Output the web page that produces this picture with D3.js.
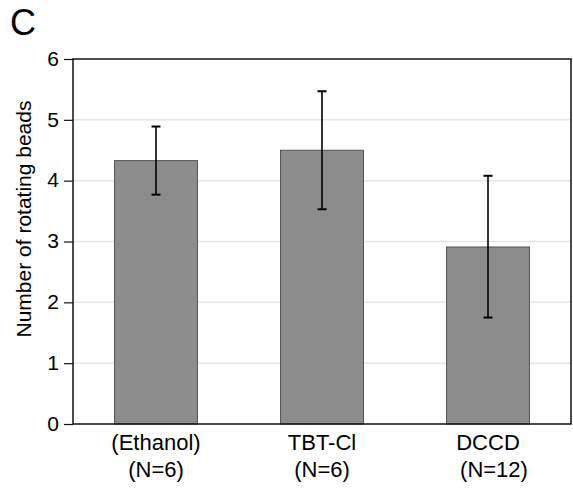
<!DOCTYPE html>
<html>
<head>
<meta charset="utf-8">
<script src="https://cdn.jsdelivr.net/npm/d3@7"></script>
<style>
  body { margin: 0; background: #fff; }
  text { font-family: "Liberation Sans", Arial, sans-serif; fill: #000; }
</style>
</head>
<body>
<div id="chart"></div>
<script>
// treatment groups and their bead counts (mean, error bar low/high)
var categories = ["(Ethanol)", "TBT-Cl", "DCCD"];
var groupSizes = ["(N=6)", "(N=6)", "(N=12)"];
var means = [4.33, 4.50, 2.91];
var errLow = [3.77, 3.53, 1.75];
var errHigh = [4.89, 5.47, 4.08];
var yTicks = [0, 1, 2, 3, 4, 5, 6];

var w = 573, h = 496;
var margin = {top: 59, right: 2, bottom: 72, left: 73};

var svg = d3.select("#chart")
    .append("svg")
    .attr("width", w)
    .attr("height", h);

var x = d3.scaleBand()
    .domain(categories)
    .range([margin.left, w - margin.right])
    .paddingInner(0.5)
    .paddingOuter(0.25);

var y = d3.scaleLinear()
    .domain([0, 6])
    .range([h - margin.bottom, margin.top]);

// light grid lines
svg.append("g")
    .selectAll("line")
    .data(yTicks.slice(1, -1))
    .enter()
    .append("line")
    .attr("x1", margin.left)
    .attr("x2", w - margin.right)
    .attr("y1", function (d) { return y(d); })
    .attr("y2", function (d) { return y(d); })
    .attr("stroke", "#e6e6e6")
    .attr("stroke-width", 1.5);

// bars
svg.append("g")
    .selectAll("rect")
    .data(means)
    .enter()
    .append("rect")
    .attr("x", function (d, i) { return x(categories[i]); })
    .attr("y", function (d) { return y(d); })
    .attr("width", x.bandwidth())
    .attr("height", function (d) { return y(0) - y(d); })
    .attr("fill", "#8c8c8c")
    .attr("stroke", "#555")
    .attr("stroke-width", 1);

// error bars
var err = svg.append("g")
    .selectAll("g")
    .data(categories)
    .enter()
    .append("g")
    .attr("stroke", "#000")
    .attr("stroke-width", 1.6);

err.append("line")
    .attr("x1", function (d) { return x(d) + x.bandwidth() / 2; })
    .attr("x2", function (d) { return x(d) + x.bandwidth() / 2; })
    .attr("y1", function (d, i) { return y(errLow[i]); })
    .attr("y2", function (d, i) { return y(errHigh[i]); });

err.append("line")
    .attr("x1", function (d) { return x(d) + x.bandwidth() / 2 - 4.5; })
    .attr("x2", function (d) { return x(d) + x.bandwidth() / 2 + 4.5; })
    .attr("y1", function (d, i) { return y(errHigh[i]); })
    .attr("y2", function (d, i) { return y(errHigh[i]); })
    .attr("stroke-width", 2);

err.append("line")
    .attr("x1", function (d) { return x(d) + x.bandwidth() / 2 - 4.5; })
    .attr("x2", function (d) { return x(d) + x.bandwidth() / 2 + 4.5; })
    .attr("y1", function (d, i) { return y(errLow[i]); })
    .attr("y2", function (d, i) { return y(errLow[i]); })
    .attr("stroke-width", 2);

// frame
svg.append("rect")
    .attr("x", margin.left)
    .attr("y", margin.top)
    .attr("width", w - margin.right - margin.left)
    .attr("height", h - margin.bottom - margin.top)
    .attr("fill", "none")
    .attr("stroke", "#111")
    .attr("stroke-width", 1.5);

// y axis
var yAxis = svg.append("g")
    .attr("transform", "translate(" + margin.left + ",0)")
    .call(d3.axisLeft(y).tickValues(yTicks).tickFormat(d3.format("d")).tickSize(9).tickPadding(5));
yAxis.select(".domain").remove();
yAxis.selectAll("line").attr("stroke", "#111").attr("stroke-width", 1.2);
yAxis.selectAll("text")
    .style("font-size", "21px")
    .style("font-family", "Liberation Sans, Arial, sans-serif")
    .attr("dy", "0.3em")
    .attr("fill", "#000");

// x category labels
svg.append("g")
    .selectAll("text")
    .data(categories)
    .enter()
    .append("text")
    .attr("x", function (d) { return x(d) + x.bandwidth() / 2; })
    .attr("y", 450)
    .style("font-size", "22px")
    .style("text-anchor", "middle")
    .text(function (d) { return d; });

svg.append("g")
    .selectAll("text")
    .data(groupSizes)
    .enter()
    .append("text")
    .attr("x", function (d, i) { return x(categories[i]) + x.bandwidth() / 2 + (i == 2 ? 6 : 0); })
    .attr("y", 477)
    .style("font-size", "22px")
    .style("text-anchor", "middle")
    .text(function (d) { return d; });

// y axis title
svg.append("text")
    .attr("transform", "translate(31,219) rotate(-90)")
    .style("font-size", "21px")
    .style("text-anchor", "middle")
    .text("Number of rotating beads");

// panel letter
svg.append("text")
    .attr("x", 10)
    .attr("y", 35)
    .style("font-size", "36px")
    .text("C");
</script>
</body>
</html>
